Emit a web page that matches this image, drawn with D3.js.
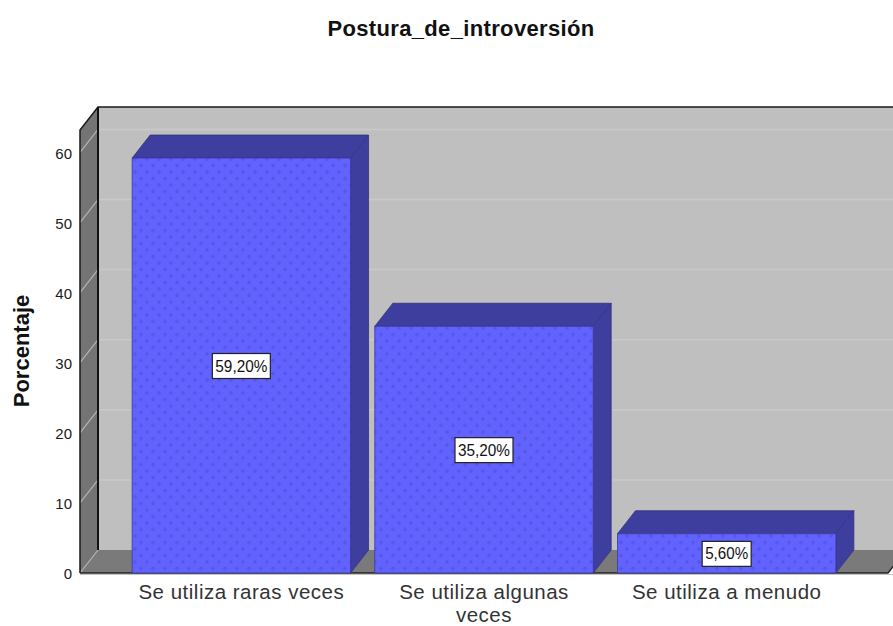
<!DOCTYPE html>
<html>
<head>
<meta charset="utf-8">
<script src="https://d3js.org/d3.v7.min.js"></script>
<style>
  body { margin: 0; padding: 0; overflow: hidden; background: #fff; }
  text { font-family: "Liberation Sans", Arial, sans-serif; }
</style>
</head>
<body>
<script>
    const categories = ["Se utiliza raras veces", "Se utiliza algunas veces", "Se utiliza a menudo"];
    const values = [59.2, 35.2, 5.6];
    const valueLabels = ["59,20%", "35,20%", "5,60%"];
    const yTicks = [0, 10, 20, 30, 40, 50, 60];
    const yMax = 63.2;

    const width = 893, height = 626;
    const x0 = 80, floorY = 573, topY = 130, xEnd = 888;
    const dx = 18, dy = -23;   // depth of the 3D box

    const svg = d3.select("body").append("svg")
      .attr("width", width)
      .attr("height", height)
      .style("display", "block");

    const y = d3.scaleLinear().domain([0, yMax]).range([floorY, topY]);
    const x = d3.scaleBand().domain(categories).range([120, 848])
      .paddingInner(0.1).paddingOuter(0.05);

    const pts = p => p.map(d => d.join(",")).join(" ");

    // crosses on the bars
    const pattern = svg.append("defs").append("pattern")
      .attr("id", "cross")
      .attr("patternUnits", "userSpaceOnUse")
      .attr("width", 12).attr("height", 13);
    pattern.append("rect").attr("width", 12).attr("height", 13).attr("fill", "#6262ff");
    pattern.selectAll("path").data([[3, 3], [9, 9.5]]).enter().append("path")
      .attr("d", d => `M${d[0] - 2},${d[1]}H${d[0] + 2}M${d[0]},${d[1] - 2}V${d[1] + 2}`)
      .attr("stroke", "#5656ec").attr("stroke-width", 1.5);

    // walls and floor
    svg.append("polygon")
      .attr("points", pts([[x0 + dx, topY + dy], [xEnd + dx, topY + dy], [xEnd + dx, floorY + dy], [x0 + dx, floorY + dy]]))
      .attr("fill", "#bfbfbf");
    svg.append("polygon")
      .attr("points", pts([[x0, topY], [x0 + dx, topY + dy], [x0 + dx, floorY + dy], [x0, floorY]]))
      .attr("fill", "#747474");
    svg.append("polygon")
      .attr("points", pts([[x0, floorY], [x0 + dx, floorY + dy], [xEnd + dx, floorY + dy], [xEnd, floorY]]))
      .attr("fill", "#7a7a7a");

    // gridlines, back wall and side wall
    svg.selectAll(".grid").data(yTicks.slice(1)).enter().append("line")
      .attr("class", "grid")
      .attr("x1", x0 + dx).attr("x2", xEnd + dx)
      .attr("y1", d => y(d) + dy).attr("y2", d => y(d) + dy)
      .attr("stroke", "#c9c9c9").attr("stroke-width", 1.5);
    svg.selectAll(".gridSide").data(yTicks).enter().append("line")
      .attr("class", "gridSide")
      .attr("x1", x0).attr("x2", x0 + dx)
      .attr("y1", d => y(d)).attr("y2", d => y(d) + dy)
      .attr("stroke", "#b4b4b4").attr("stroke-width", 1.2);

    // box outlines
    svg.append("path")
      .attr("d", `M${x0},${floorY}V${topY}L${x0 + dx},${topY + dy}H${width}`)
      .attr("fill", "none").attr("stroke", "#1a1a1a").attr("stroke-width", 1.5);
    svg.append("line")
      .attr("x1", x0 + dx).attr("x2", x0 + dx)
      .attr("y1", topY + dy).attr("y2", floorY + dy)
      .attr("stroke", "#111").attr("stroke-width", 2);
    svg.append("path")
      .attr("d", `M${x0},${floorY}H${xEnd}L${xEnd + dx},${floorY + dy}`)
      .attr("fill", "none").attr("stroke", "#222").attr("stroke-width", 1.5);
    svg.append("line")
      .attr("x1", x0).attr("x2", width)
      .attr("y1", floorY + 1.5).attr("y2", floorY + 1.5)
      .attr("stroke", "#c4c4c4").attr("stroke-width", 1);

    // bars
    const bars = svg.selectAll(".bar").data(categories).enter().append("g").attr("class", "bar");
    const top3d = (d, i) => {
      const l = x(d), r = l + x.bandwidth(), t = y(values[i]);
      return pts([[l, t], [l + dx, t + dy], [r + dx, t + dy], [r, t]]);
    };
    const side3d = (d, i) => {
      const r = x(d) + x.bandwidth(), t = y(values[i]);
      return pts([[r, t], [r + dx, t + dy], [r + dx, floorY + dy], [r, floorY]]);
    };
    bars.append("polygon").attr("points", top3d)
      .attr("fill", "#3e3e9e").attr("stroke", "#34347f").attr("stroke-width", 0.8);
    bars.append("polygon").attr("points", side3d)
      .attr("fill", "#3e3e9e").attr("stroke", "#34347f").attr("stroke-width", 0.8);
    bars.append("rect")
      .attr("x", d => x(d))
      .attr("y", (d, i) => y(values[i]))
      .attr("width", x.bandwidth())
      .attr("height", (d, i) => floorY - y(values[i]))
      .attr("fill", "url(#cross)")
      .attr("stroke", "#3a3a9a").attr("stroke-width", 0.8);

    // value labels
    const labels = svg.selectAll(".valueLabel").data(categories).enter().append("g")
      .attr("class", "valueLabel")
      .attr("transform", (d, i) => `translate(${x(d) + x.bandwidth() / 2},${(y(values[i]) + floorY) / 2})`);
    labels.append("rect")
      .attr("x", (d, i) => i == 2 ? -24.5 : -29).attr("y", -12)
      .attr("width", (d, i) => i == 2 ? 49 : 58).attr("height", 25)
      .attr("fill", "#fff").attr("stroke", "#222").attr("stroke-width", 1.2);
    labels.append("text")
      .attr("text-anchor", "middle").attr("y", 6)
      .attr("font-size", 16).attr("fill", "#111")
      .attr("textLength", (d, i) => i == 2 ? 43 : 52)
      .attr("lengthAdjust", "spacingAndGlyphs")
      .text((d, i) => valueLabels[i]);

    // y axis, only the numbers
    const yAxis = svg.append("g")
      .attr("transform", `translate(${x0},1)`)
      .call(d3.axisLeft(y).tickValues(yTicks).tickSize(0).tickPadding(8));
    yAxis.select(".domain").remove();
    yAxis.selectAll("text")
      .attr("font-size", 15).attr("fill", "#1a1a1a")
      .style("font-family", '"Liberation Sans", Arial, sans-serif');

    // category labels
    const wrapped = [["Se utiliza raras veces"], ["Se utiliza algunas", "veces"], ["Se utiliza a menudo"]];
    svg.selectAll(".catLabel").data(categories).enter().append("text")
      .attr("class", "catLabel")
      .attr("text-anchor", "middle")
      .attr("font-size", 20.5).attr("fill", "#333")
      .attr("letter-spacing", 0.5)
      .each(function(d, i) {
        d3.select(this).selectAll("tspan").data(wrapped[i]).enter().append("tspan")
          .attr("x", x(d) + x.bandwidth() / 2)
          .attr("y", (t, j) => 598.5 + j * 23)
          .text(t => t);
      });

    // titles
    svg.append("text")
      .attr("x", 461).attr("y", 36)
      .attr("text-anchor", "middle")
      .attr("font-size", 22).attr("font-weight", "bold").attr("fill", "#111")
      .attr("letter-spacing", 0.35)
      .text("Postura_de_introversión");
    svg.append("text")
      .attr("transform", "translate(29,351) rotate(-90)")
      .attr("text-anchor", "middle")
      .attr("font-size", 22).attr("font-weight", "bold").attr("fill", "#111")
      .text("Porcentaje");
</script>
</body>
</html>
